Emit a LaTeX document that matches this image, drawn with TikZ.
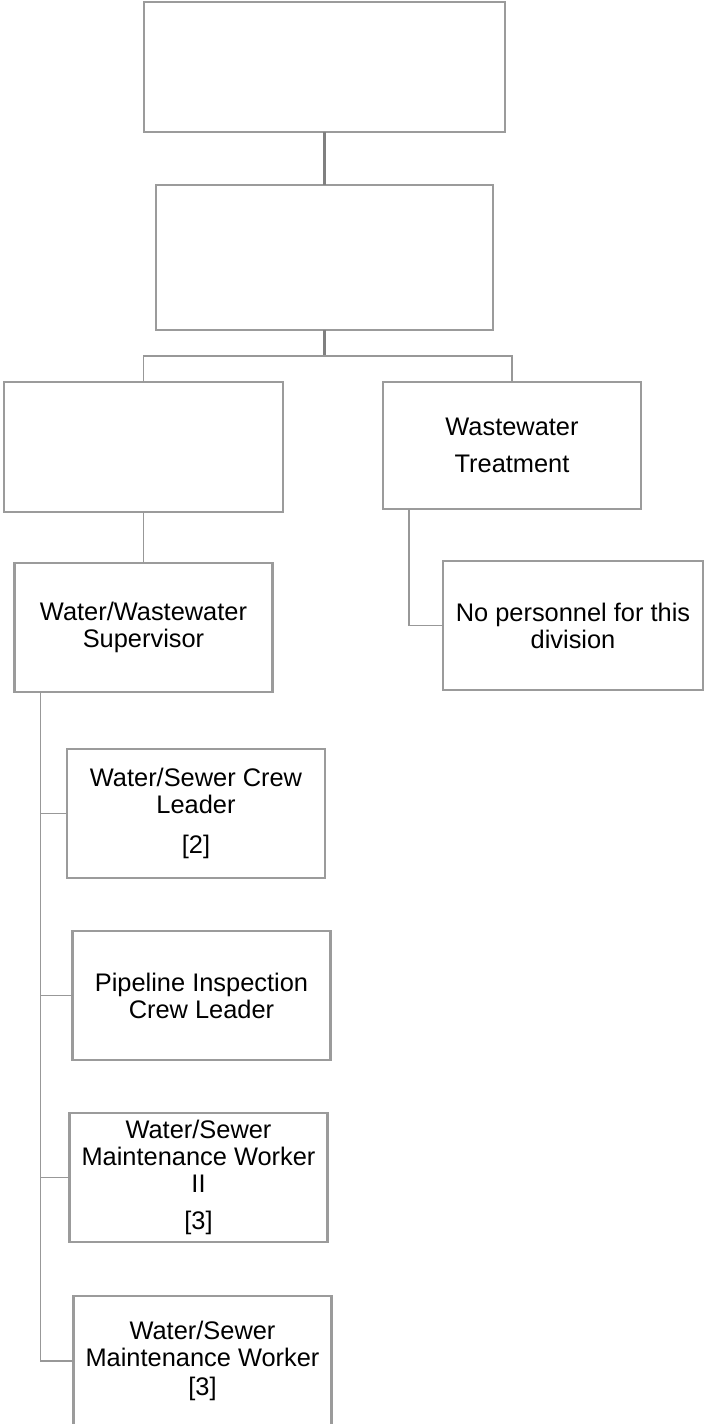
\documentclass[tikz,border=0pt]{standalone}
\usepackage{fontspec}
\setmainfont{Liberation Sans}
\usetikzlibrary{positioning}
\definecolor{boxgray}{RGB}{155,155,155}
\definecolor{linkgray}{RGB}{152,152,152}
\definecolor{trunkgray}{RGB}{128,128,128}

\begin{document}
\begin{tikzpicture}[
    font=\fontsize{12.7pt}{13.5pt}\selectfont,
    blankbox/.style={rectangle, outer sep=0pt, draw=boxgray, line width=0.7pt, fill=white},
    unitbox/.style={rectangle, outer sep=0pt, minimum width=129pt, minimum height=64.5pt, align=center, draw=boxgray, line width=1.3pt, fill=white},
    link/.style={draw=linkgray, line width=0.9pt},
    trunk/.style={draw=trunkgray, line width=1.1pt},
]
    \useasboundingbox (0,0) rectangle (353pt,-712pt);

    \node (director) [blankbox, minimum width=180.5pt, minimum height=65pt] at (162.25pt,-33.5pt) {};
    \node (manager) [blankbox, minimum width=168.5pt, minimum height=72.5pt, below=26.5pt of director] {};

    \node (waterdiv) [blankbox, minimum width=139.5pt, minimum height=65pt, below=26pt of manager, xshift=-90.5pt] {};
    \node (treatment) [unitbox, minimum height=63.5pt, below=26pt of manager, xshift=93.75pt]
      {Wastewater\\[5pt]Treatment};

    \node (supervisor) [unitbox, below=25.5pt of waterdiv] {Water/Wastewater\\Supervisor};
    \node (nostaff) [unitbox, minimum width=130pt, below=26pt of treatment, xshift=30.5pt]
      {No personnel for this\\division};

    \node (crewlead) [unitbox, below=28.5pt of supervisor, xshift=26.25pt]
      {Water/Sewer Crew\\Leader\\[6.5pt]{[2]}};
    \node (pipelead) [unitbox, below=26.5pt of crewlead, xshift=2.75pt]
      {Pipeline Inspection\\Crew Leader};
    \node (mwtwo) [unitbox, below=26.5pt of pipelead, xshift=-1.5pt]
      {Water/Sewer\\Maintenance Worker\\II\\[5pt]{[3]}};
    \node (mwone) [unitbox, minimum height=65pt, below=27pt of mwtwo, xshift=2pt]
      {Water/Sewer\\Maintenance Worker\\[1pt]{[3]}};

    \draw [trunk] (director) -- (manager);
    \draw [trunk] (manager.south) -- ++(0,-13pt) coordinate (split);
    \draw [link] (split) -| (waterdiv.north);
    \draw [link] (split) -| (treatment.north);
    \draw [link] (waterdiv.south) -- (waterdiv.south |- supervisor.north);
    \draw [link] ([xshift=13pt]treatment.south west) |- (nostaff.west);

    \coordinate (spine) at ([xshift=13pt]supervisor.south west);
    \draw [link] (spine) |- (crewlead.west);
    \draw [link] (spine) |- (pipelead.west);
    \draw [link] (spine) |- (mwtwo.west);
    \draw [link] (spine) |- (mwone.west);

\end{tikzpicture}
\end{document}
